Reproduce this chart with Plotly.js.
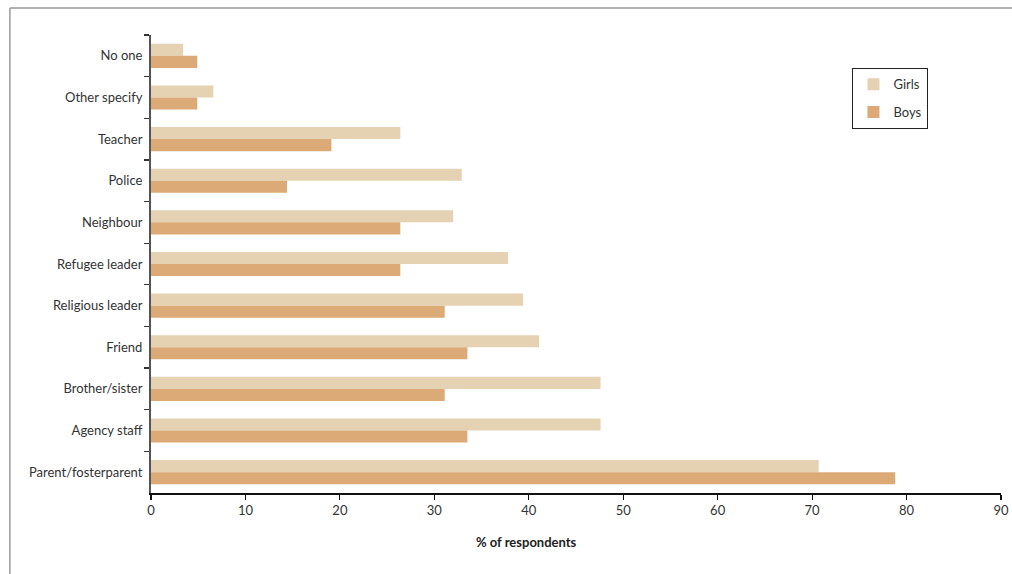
<!DOCTYPE html>
<html>
<head>
<meta charset="utf-8">
<script src="https://cdn.plot.ly/plotly-3.0.1.min.js"></script>
<style>html,body{margin:0;padding:0;background:#fff;}#chart{width:1012px;height:574px;}</style>
</head>
<body>
<div id="chart"></div>
<script>
const categories = ["No one","Other specify","Teacher","Police","Neighbour","Refugee leader","Religious leader","Friend","Brother/sister","Agency staff","Parent/fosterparent"];
const girls = [3.4, 6.6, 26.4, 32.9, 32.0, 37.8, 39.4, 41.1, 47.6, 47.6, 70.7];
const boys  = [4.9, 4.9, 19.1, 14.4, 26.4, 26.4, 31.1, 33.5, 31.1, 33.5, 78.8];
const xTicks = [0,10,20,30,40,50,60,70,80,90];

const font = "Lato, 'Noto Sans', sans-serif";

const traces = [
  {type:'bar', orientation:'h', name:'Girls', y:categories, x:girls,
   marker:{color:'#E4D2B3'}, legendgroup:'g', hoverinfo:'x+y'},
  {type:'bar', orientation:'h', name:'Boys', y:categories, x:boys,
   marker:{color:'#DBAA76'}, legendgroup:'b', hoverinfo:'x+y'}
];

const layout = {
  width:1012, height:574,
  margin:{l:151, r:11, t:35, b:81},
  paper_bgcolor:'#fff', plot_bgcolor:'#fff',
  font:{family:font, size:13, color:'#333'},
  barmode:'group', bargap:0.42, bargroupgap:0,
  showlegend:true,
  legend:{x:0.825, y:0.928, xanchor:'left', yanchor:'top',
          bordercolor:'#222', borderwidth:1.2, bgcolor:'#fff',
          traceorder:'grouped', tracegroupgap:8,
          font:{family:font, size:13, color:'#333'}},
  xaxis:{range:[0,90], tickvals:xTicks, ticktext:xTicks.map(String),
         showgrid:false, zeroline:false, showline:true, linecolor:'#111', linewidth:1.5,
         ticks:'outside', ticklen:5, tickcolor:'#111', tickwidth:1.2,
         tickfont:{family:font, size:13, color:'#333'}, fixedrange:true},
  yaxis:{type:'category', autorange:'reversed', showgrid:false, zeroline:false,
         showline:true, linecolor:'#555', linewidth:2,
         ticks:'outside', tickson:'boundaries', ticklen:5, tickcolor:'#333', tickwidth:1.2,
         ticklabelstandoff:4,
         tickfont:{family:font, size:13, color:'#333'}, fixedrange:true},
  annotations:[{text:'<b>% of respondents</b>', xref:'paper', yref:'paper',
                x:0.442, y:-0.107, xanchor:'center', yanchor:'middle', showarrow:false,
                font:{family:font, size:13, color:'#222'}}],
  shapes:[
    {type:'line', xref:'paper', yref:'paper', x0:-0.166, x1:1.02, y0:1.059, y1:1.059,
     line:{color:'#999', width:1.5}},
    {type:'line', xref:'paper', yref:'paper', x0:-0.166, x1:-0.166, y0:1.059, y1:-0.2,
     line:{color:'#999', width:1.5}}
  ]
};

Plotly.newPlot('chart', traces, layout, {displayModeBar:false, staticPlot:true});
</script>
</body>
</html>
